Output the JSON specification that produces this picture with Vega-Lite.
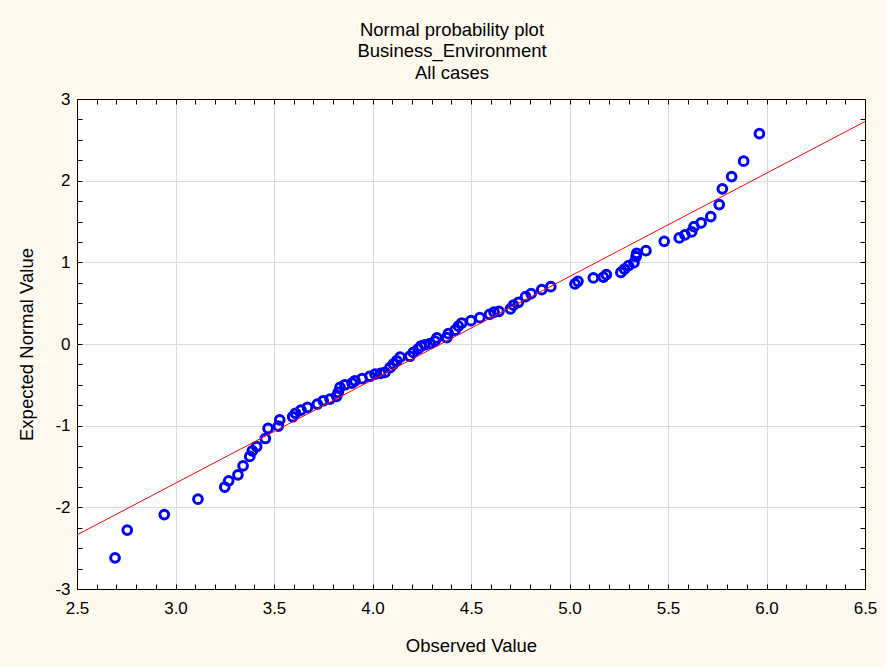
{
  "$schema": "https://vega.github.io/schema/vega-lite/v6.json",
  "autosize": {"type": "none"},
  "padding": {"left": 77, "top": 99, "right": 21, "bottom": 78},
  "width": 788,
  "height": 490,
  "background": "#FDF9EE",
  "title": {
    "text": ["Normal probability plot", "Business_Environment", "All cases"],
    "font": "Liberation Sans",
    "fontSize": 18.5,
    "fontWeight": "normal",
    "lineHeight": 21.5,
    "color": "#000000",
    "anchor": "middle",
    "dx": -19,
    "offset": 8
  },
  "config": {
    "view": {"stroke": "#000000", "strokeWidth": 1, "fill": "#FFFFFF"},
    "axis": {
      "domain": false,
      "tickColor": "#000000",
      "tickWidth": 1,
      "tickSize": -5,
      "labelFont": "Liberation Sans",
      "labelFontSize": 17,
      "labelColor": "#000000",
      "titleFont": "Liberation Sans",
      "titleFontSize": 18.5,
      "titleFontWeight": "normal",
      "titleColor": "#000000",
      "gridColor": "#DCDCDC",
      "gridWidth": 1
    }
  },
  "datasets": {
    "scores": [
      {"observed": 2.693, "expected": -2.618},
      {"observed": 2.755, "expected": -2.279},
      {"observed": 2.943, "expected": -2.088},
      {"observed": 3.114, "expected": -1.900},
      {"observed": 3.250, "expected": -1.752},
      {"observed": 3.270, "expected": -1.675},
      {"observed": 3.317, "expected": -1.602},
      {"observed": 3.343, "expected": -1.492},
      {"observed": 3.377, "expected": -1.377},
      {"observed": 3.390, "expected": -1.308},
      {"observed": 3.412, "expected": -1.255},
      {"observed": 3.456, "expected": -1.157},
      {"observed": 3.470, "expected": -1.034},
      {"observed": 3.522, "expected": -1.005},
      {"observed": 3.529, "expected": -0.928},
      {"observed": 3.595, "expected": -0.891},
      {"observed": 3.609, "expected": -0.848},
      {"observed": 3.637, "expected": -0.809},
      {"observed": 3.670, "expected": -0.777},
      {"observed": 3.720, "expected": -0.735},
      {"observed": 3.750, "expected": -0.695},
      {"observed": 3.784, "expected": -0.674},
      {"observed": 3.818, "expected": -0.640},
      {"observed": 3.826, "expected": -0.593},
      {"observed": 3.835, "expected": -0.532},
      {"observed": 3.860, "expected": -0.499},
      {"observed": 3.896, "expected": -0.480},
      {"observed": 3.911, "expected": -0.450},
      {"observed": 3.947, "expected": -0.425},
      {"observed": 3.987, "expected": -0.395},
      {"observed": 4.013, "expected": -0.370},
      {"observed": 4.041, "expected": -0.360},
      {"observed": 4.063, "expected": -0.348},
      {"observed": 4.089, "expected": -0.290},
      {"observed": 4.106, "expected": -0.245},
      {"observed": 4.123, "expected": -0.205},
      {"observed": 4.140, "expected": -0.162},
      {"observed": 4.190, "expected": -0.150},
      {"observed": 4.207, "expected": -0.103},
      {"observed": 4.232, "expected": -0.061},
      {"observed": 4.246, "expected": -0.027},
      {"observed": 4.266, "expected": -0.009},
      {"observed": 4.292, "expected": 0.005},
      {"observed": 4.317, "expected": 0.034},
      {"observed": 4.327, "expected": 0.074},
      {"observed": 4.377, "expected": 0.077},
      {"observed": 4.385, "expected": 0.126},
      {"observed": 4.419, "expected": 0.169},
      {"observed": 4.436, "expected": 0.218},
      {"observed": 4.453, "expected": 0.257},
      {"observed": 4.500, "expected": 0.286},
      {"observed": 4.545, "expected": 0.322},
      {"observed": 4.594, "expected": 0.363},
      {"observed": 4.617, "expected": 0.390},
      {"observed": 4.642, "expected": 0.400},
      {"observed": 4.700, "expected": 0.429},
      {"observed": 4.716, "expected": 0.475},
      {"observed": 4.741, "expected": 0.510},
      {"observed": 4.777, "expected": 0.580},
      {"observed": 4.805, "expected": 0.616},
      {"observed": 4.859, "expected": 0.665},
      {"observed": 4.905, "expected": 0.702},
      {"observed": 5.028, "expected": 0.735},
      {"observed": 5.043, "expected": 0.767},
      {"observed": 5.121, "expected": 0.809},
      {"observed": 5.172, "expected": 0.820},
      {"observed": 5.187, "expected": 0.849},
      {"observed": 5.261, "expected": 0.877},
      {"observed": 5.279, "expected": 0.917},
      {"observed": 5.300, "expected": 0.960},
      {"observed": 5.327, "expected": 0.996},
      {"observed": 5.338, "expected": 1.070},
      {"observed": 5.341, "expected": 1.110},
      {"observed": 5.388, "expected": 1.143},
      {"observed": 5.481, "expected": 1.257},
      {"observed": 5.557, "expected": 1.299},
      {"observed": 5.586, "expected": 1.336},
      {"observed": 5.620, "expected": 1.372},
      {"observed": 5.632, "expected": 1.437},
      {"observed": 5.668, "expected": 1.483},
      {"observed": 5.717, "expected": 1.560},
      {"observed": 5.760, "expected": 1.707},
      {"observed": 5.776, "expected": 1.900},
      {"observed": 5.823, "expected": 2.050},
      {"observed": 5.884, "expected": 2.238},
      {"observed": 5.964, "expected": 2.577}
    ],
    "fit": [
      {"observed": 2.5, "expected": -2.337},
      {"observed": 6.5, "expected": 2.724}
    ]
  },
  "layer": [
    {
      "data": {"name": "scores"},
      "mark": {"type": "point", "shape": "circle", "filled": false, "stroke": "#0000FF", "strokeWidth": 3, "size": 76, "opacity": 1},
      "encoding": {
        "x": {
          "field": "observed", "type": "quantitative",
          "scale": {"domain": [2.5, 6.5], "nice": false, "zero": false},
          "axis": {
            "orient": "top", "title": null, "labels": false, "grid": false,
            "values": [2.5,2.6,2.7,2.8,2.9,3.0,3.1,3.2,3.3,3.4,3.5,3.6,3.7,3.8,3.9,4.0,4.1,4.2,4.3,4.4,4.5,4.6,4.7,4.8,4.9,5.0,5.1,5.2,5.3,5.4,5.5,5.6,5.7,5.8,5.9,6.0,6.1,6.2,6.3,6.4,6.5]
          }
        },
        "y": {
          "field": "expected", "type": "quantitative",
          "scale": {"domain": [-3, 3], "nice": false, "zero": false},
          "axis": {
            "orient": "right", "title": null, "labels": false, "grid": false,
            "values": [-3,-2.75,-2.5,-2.25,-2,-1.75,-1.5,-1.25,-1,-0.75,-0.5,-0.25,0,0.25,0.5,0.75,1,1.25,1.5,1.75,2,2.25,2.5,2.75,3]
          }
        }
      }
    },
    {
      "data": {"name": "fit"},
      "mark": {"type": "line", "color": "#FF0000", "strokeWidth": 1},
      "encoding": {
        "x": {
          "field": "observed", "type": "quantitative",
          "scale": {"domain": [2.5, 6.5], "nice": false, "zero": false},
          "axis": {
            "orient": "bottom", "title": "Observed Value", "titlePadding": 20,
            "labelPadding": 16,
            "values": [2.5,2.6,2.7,2.8,2.9,3.0,3.1,3.2,3.3,3.4,3.5,3.6,3.7,3.8,3.9,4.0,4.1,4.2,4.3,4.4,4.5,4.6,4.7,4.8,4.9,5.0,5.1,5.2,5.3,5.4,5.5,5.6,5.7,5.8,5.9,6.0,6.1,6.2,6.3,6.4,6.5],
            "labelExpr": "abs(datum.value * 2 - round(datum.value * 2)) < 0.001 ? format(datum.value, '.1f') : ''",
            "labelFlush": false,
            "labelOverlap": false,
            "grid": true,
            "gridOpacity": {"condition": {"test": "abs(datum.value * 2 - round(datum.value * 2)) < 0.001 && datum.value > 2.55 && datum.value < 6.45", "value": 1}, "value": 0}
          }
        },
        "y": {
          "field": "expected", "type": "quantitative",
          "scale": {"domain": [-3, 3], "nice": false, "zero": false},
          "axis": {
            "orient": "left", "title": "Expected Normal Value", "titlePadding": 18,
            "labelPadding": 12,
            "values": [-3,-2.75,-2.5,-2.25,-2,-1.75,-1.5,-1.25,-1,-0.75,-0.5,-0.25,0,0.25,0.5,0.75,1,1.25,1.5,1.75,2,2.25,2.5,2.75,3],
            "labelExpr": "abs(datum.value - round(datum.value)) < 0.001 ? '' + round(datum.value) : ''",
            "labelFlush": false,
            "labelOverlap": false,
            "grid": true,
            "gridOpacity": {"condition": {"test": "abs(datum.value - round(datum.value)) < 0.001 && datum.value > -2.5 && datum.value < 2.5", "value": 1}, "value": 0}
          }
        }
      }
    }
  ],
  "resolve": {"axis": {"x": "independent", "y": "independent"}}
}
